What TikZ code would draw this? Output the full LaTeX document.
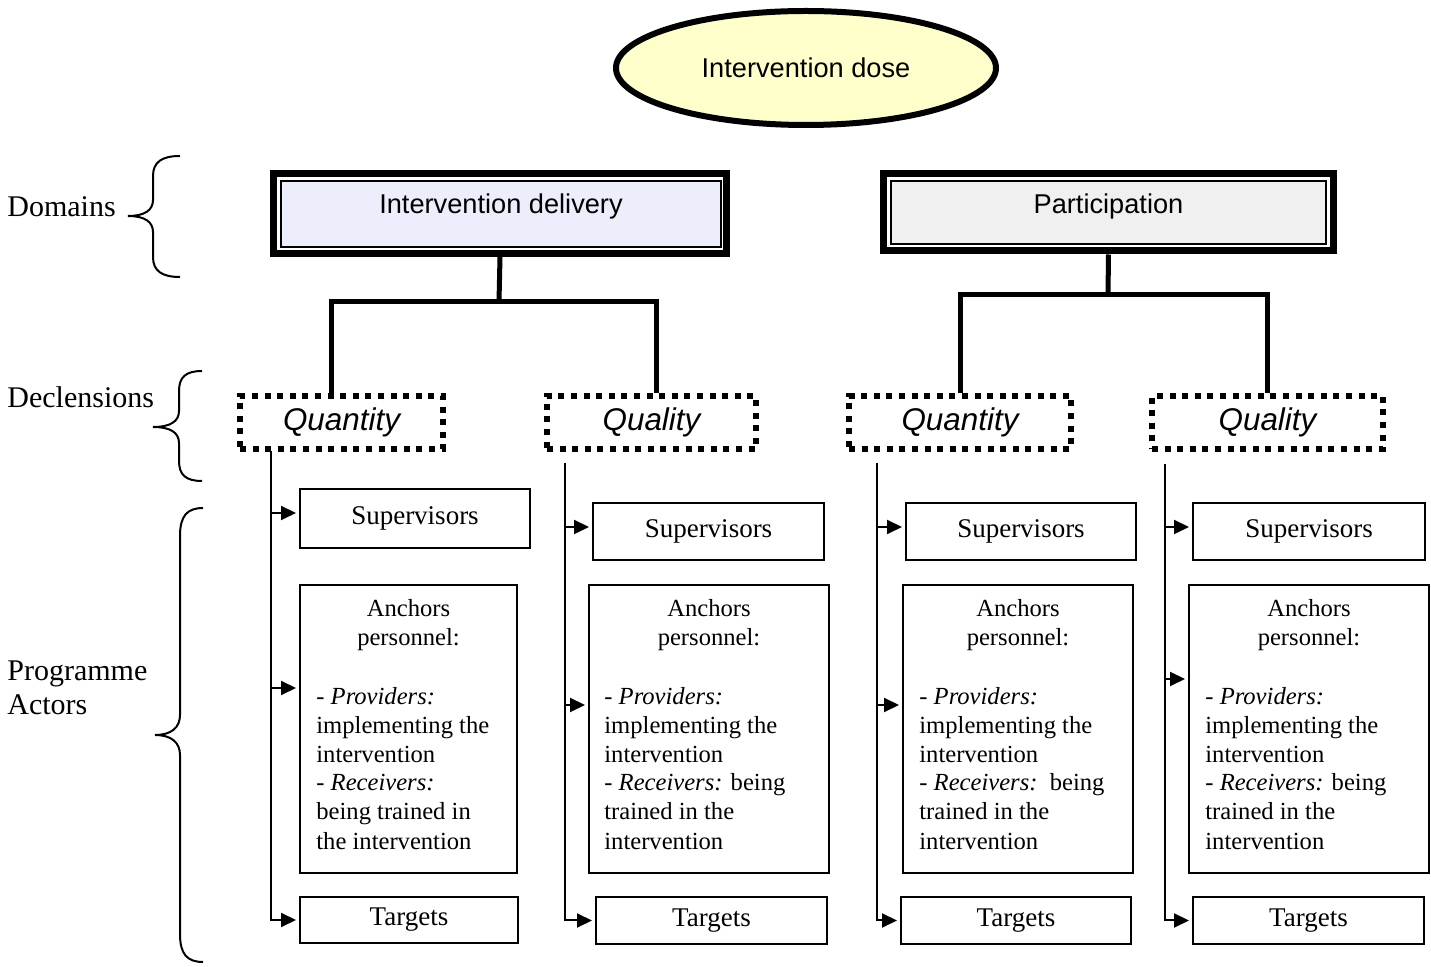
\documentclass[tikz,border=0pt]{standalone}
\usepackage{fontspec}
\setmainfont{Liberation Serif}
\newfontfamily\arialfont{Liberation Sans}
\usetikzlibrary{arrows.meta,fit,shapes.geometric}
\definecolor{dosefill}{RGB}{255,255,204}
\definecolor{idfill}{RGB}{236,238,252}
\definecolor{pafill}{RGB}{240,240,240}
\begin{document}
\begin{tikzpicture}[x=0.5pt,y=-0.5pt,
  sz/.style 2 args={minimum width=#1*0.5pt, minimum height=#2*0.5pt},
  outerbox/.style={draw, line width=3.5pt, fill=white, inner sep=0pt},
  innerbox/.style={draw, line width=0.8pt, inner sep=0pt},
  domtext/.style={font=\arialfont\fontsize{13.6}{16}\selectfont, inner sep=0pt},
  dotbox/.style={draw, line width=2.8pt, dash pattern=on 3pt off 3.3pt, inner sep=0pt,
    font=\arialfont\itshape\fontsize{15.7}{18}\selectfont},
  tree/.style={line width=2.5pt},
  actbox/.style={draw, line width=1pt, inner sep=0pt, font=\fontsize{13.5}{16}\selectfont},
  anctext/.style={inner sep=0pt, font=\fontsize{12.3}{14.5}\selectfont},
  arr/.style={line width=1pt, -{Triangle[length=7.5pt,width=7pt]}, shorten >=1.5pt},
  brace/.style={line width=1pt},
  lbl/.style={inner sep=0pt, font=\fontsize{15}{17}\selectfont}]
\useasboundingbox (0,0) rectangle (1431,967);

% top ellipse
\node[ellipse, draw, line width=3pt, fill=dosefill, minimum width=190pt, minimum height=57pt,
  inner sep=0pt, font=\arialfont\fontsize{13.6}{16}\selectfont] (dose) at (806,68) {Intervention dose};

% domains
\node[outerbox, fit={(273.5,174) (726.5,253.5)}] (idout) {};
\node[innerbox, fill=idfill, fit={(281,181) (721,247)}] (idin) {};
\path (idin.north) ++(0,33) node[domtext, anchor=base] (idtxt) {Intervention delivery};

\node[outerbox, fit={(883.5,174) (1333.5,251)}] (paout) {};
\node[innerbox, fill=pafill, fit={(891,181) (1326,244)}] (pain) {};
\path (pain.north) ++(0,33) node[domtext, anchor=base] (patxt) {Participation};

% declensions
\node[dotbox, sz={203}{53}] (q1) at (341.5,422.5) {Quantity};
\node[dotbox, sz={209}{53}] (l1) at (651.5,422.5) {Quality};
\node[dotbox, sz={222}{53}] (q2) at (960,422.5) {Quantity};
\node[dotbox, sz={231}{53}] (l2) at (1267.5,422.5) {Quality};

% tree connectors
\coordinate (j1) at (499,302);
\coordinate (j2) at (1108,295);
\draw[tree] (idout.south) -- (j1);
\draw[tree] ([xshift=-5pt]q1.north) |- (j1) -| ([xshift=2.25pt]l1.north);
\draw[tree] (paout.south) -- (j2);
\draw[tree] (q2.north) |- (j2) -| (l2.north);

% actor boxes column 1
\node[actbox, sz={230}{59}] (s1) at (415,518.5) {Supervisors};
\node[actbox, fit={(300,585) (517,873)}] (a1) {};
\node[actbox, sz={218}{46}] (t1) at (409,920) {Targets};
% column 2
\node[actbox, sz={231}{57}] (s2) at (708.5,531.5) {Supervisors};
\node[actbox, fit={(589,585) (829,873)}] (a2) {};
\node[actbox, sz={231}{47}] (t2) at (711.5,920.5) {Targets};
% column 3
\node[actbox, sz={230}{57}] (s3) at (1021,531.5) {Supervisors};
\node[actbox, fit={(903,585) (1133,873)}] (a3) {};
\node[actbox, sz={230}{47}] (t3) at (1016,920.5) {Targets};
% column 4
\node[actbox, sz={232}{57}] (s4) at (1309,531.5) {Supervisors};
\node[actbox, fit={(1189,585) (1429,873)}] (a4) {};
\node[actbox, sz={231}{47}] (t4) at (1308.5,920.5) {Targets};

% anchors texts (base anchor = baseline of the last line)
\path (a1.north) ++(0,62) node[anctext, anchor=base, align=center] (a1h) {Anchors\\personnel:};
\path (a1.north west) ++(17,265) node[anctext, anchor=base west, align=left] (a1b)
  {- \textit{Providers:}\\implementing the\\intervention\\- \textit{Receivers:}\\being trained in\\the intervention};
\path (a2.north) ++(0,62) node[anctext, anchor=base, align=center] (a2h) {Anchors\\personnel:};
\path (a2.north west) ++(16,265) node[anctext, anchor=base west, align=left] (a2b)
  {- \textit{Providers:}\\implementing the\\intervention\\- \textit{Receivers:} being\\trained in the\\intervention};
\path (a3.north) ++(0,62) node[anctext, anchor=base, align=center] (a3h) {Anchors\\personnel:};
\path (a3.north west) ++(17,265) node[anctext, anchor=base west, align=left] (a3b)
  {- \textit{Providers:}\\implementing the\\intervention\\- \textit{Receivers:}\ \ being\\trained in the\\intervention};
\path (a4.north) ++(0,62) node[anctext, anchor=base, align=center] (a4h) {Anchors\\personnel:};
\path (a4.north west) ++(17,265) node[anctext, anchor=base west, align=left] (a4b)
  {- \textit{Providers:}\\implementing the\\intervention\\- \textit{Receivers:} being\\trained in the\\intervention};

% vertical connectors and arrows
\coordinate (v1) at (271,451);
\coordinate (v1s) at (271,513);
\coordinate (v1a) at (271,688);
\draw[arr] (v1s) -- (v1s -| s1.west);
\draw[arr] (v1a) -- (v1a -| a1.west);
\draw[arr] (v1) |- (t1.west);

\coordinate (v2) at (565,463);
\coordinate (v2s) at (565,527);
\coordinate (v2a) at (565,705);
\draw[arr] (v2s) -- (v2s -| s2.west);
\draw[arr] (v2a) -- (v2a -| a2.west);
\draw[arr] (v2) |- (t2.west);

\coordinate (v3) at (877,463);
\coordinate (v3s) at (877,527);
\coordinate (v3a) at (877,705);
\draw[arr] (v3s) -- (v3s -| s3.west);
\draw[arr] (v3a) -- (v3a -| a3.west);
\draw[arr] (v3) |- (t3.west);

\coordinate (v4) at (1165,464);
\coordinate (v4s) at (1165,527);
\coordinate (v4a) at (1165,679);
\draw[arr] (v4s) -- (v4s -| s4.west);
\draw[arr] (v4a) -- (v4a -| a4.west);
\draw[arr] (v4) |- (t4.west);

% left labels
\node[lbl, anchor=base west] (ldom) at (7,217) {Domains};
\node[lbl, anchor=base west] (ldec) at (7,408) {Declensions};
\node[lbl, anchor=base west, align=left] (lact) at (7,715) {Programme\\Actors};

% braces
\draw[brace] (180,156) .. controls (162,156) and (153,162) .. (153,176) -- (153,200)
  .. controls (153,210) and (145,216) .. (128,216)
  .. controls (145,216) and (153,222) .. (153,232) -- (153,257)
  .. controls (153,271) and (162,277) .. (180,277);
\draw[brace] (202,371) .. controls (186,371) and (179,377) .. (179,391) -- (179,411)
  .. controls (179,421) and (171,427) .. (153,427)
  .. controls (171,427) and (179,433) .. (179,443) -- (179,461)
  .. controls (179,475) and (186,481) .. (202,481);
\draw[brace] (203,508) .. controls (187,508) and (180,516) .. (180,536) -- (180,715)
  .. controls (180,727) and (172,735) .. (155,735)
  .. controls (172,735) and (180,743) .. (180,755) -- (180,934)
  .. controls (180,954) and (187,962) .. (203,962);
\end{tikzpicture}
\end{document}
